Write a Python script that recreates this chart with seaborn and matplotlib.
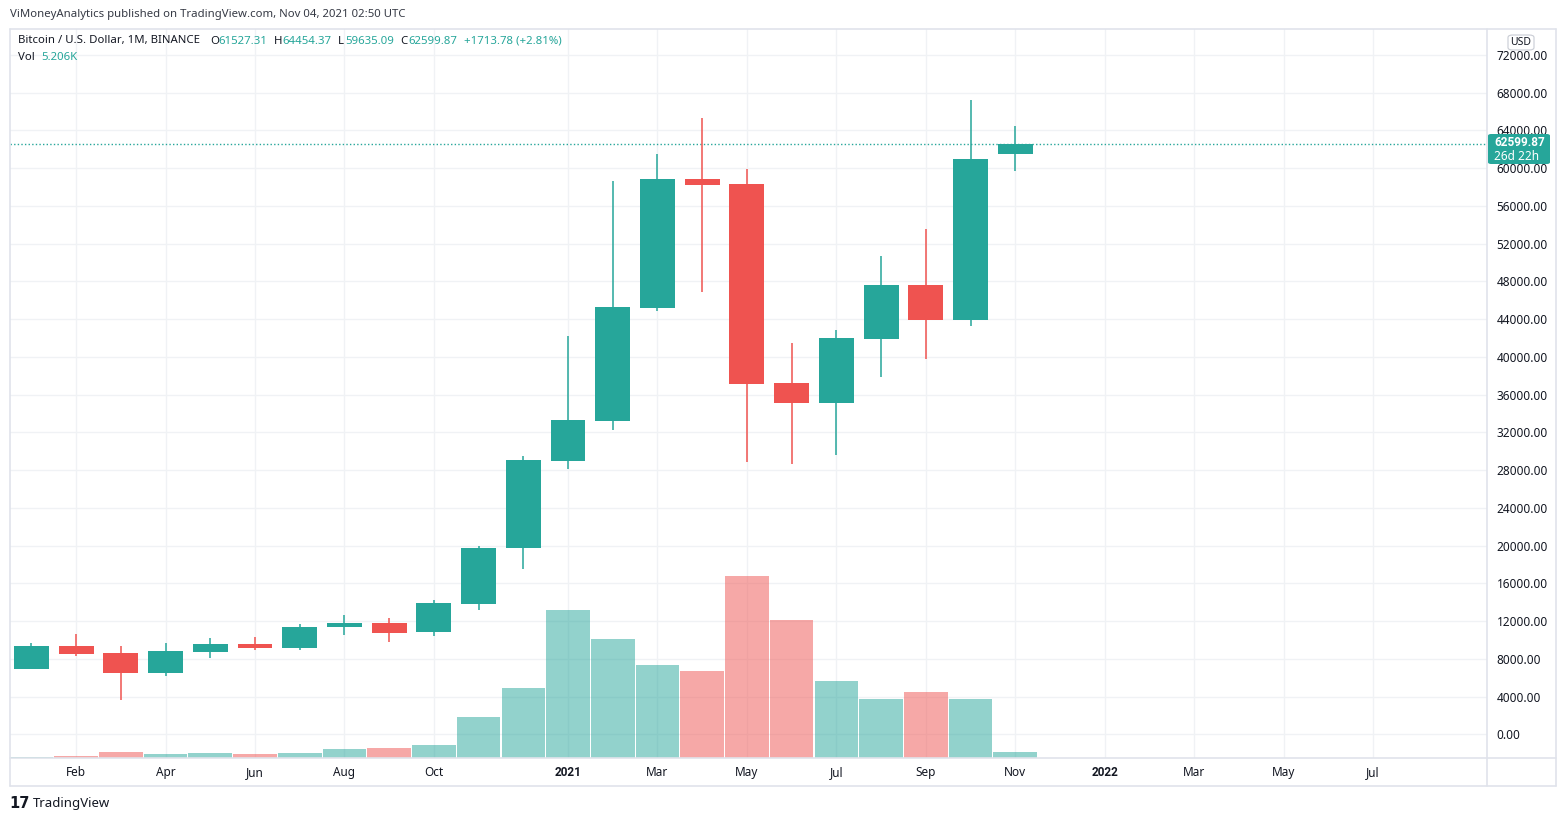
import matplotlib
matplotlib.use("Agg")
import matplotlib.pyplot as plt
from matplotlib.patches import FancyBboxPatch
from matplotlib.lines import Line2D
import numpy as np
import pandas as pd
import seaborn as sns

# monthly BTC candles, Jan 2020 .. Nov 2021
months = pd.date_range("2020-01-01", "2021-11-01", freq="MS")
opens = [6920, 9356, 8615, 6495, 8721, 9568, 9144, 11369, 11793, 10840, 13806, 19700,
         28991, 33230, 45200, 58840, 58310, 37224, 35105, 41886, 47608, 43899, 61527.31]
highs = [9674, 10628, 9356, 9674, 10204, 10310, 11687, 12641, 12323, 14230, 19952, 29489,
         42204, 58628, 61500, 65300, 59900, 41462, 42840, 50681, 53541, 67211, 64454.37]
lows = [6900, 8297, 3634, 6177, 8085, 8932, 8932, 10522, 9780, 10416, 13170, 17515,
        28111, 32244, 44853, 46866, 28853, 28641, 29595, 37859, 39767, 43264, 59635.09]
closes = [9356, 8509, 6495, 8827, 9568, 9144, 11369, 11793, 10733, 13912, 19740, 29065,
          33303, 45277, 58840, 58203, 37118, 35105, 41992, 47608, 43899, 60959, 62599.87]
volumes_k = [0.9, 1.7, 5.2, 3.5, 4.3, 3.5, 4.3, 7.8, 8.7, 11.3, 35.6, 60.8,
             129.3, 103.3, 80.7, 75.5, 158.8, 120.6, 66.8, 51.2, 57.3, 51.2, 5.206]

tick_pos = [1, 3, 5, 7, 9, 12, 14, 16, 18, 20, 22, 24, 26, 28, 30]
tick_labels = ["Feb", "Apr", "Jun", "Aug", "Oct", "2021", "Mar", "May", "Jul", "Sep",
               "Nov", "2022", "Mar", "May", "Jul"]
price_ticks = list(range(0, 72001, 4000))
last_price = 62599.87

UP, DOWN = "#26a69a", "#ef5350"
TXT, GRID, FRAME = "#131722", "#f0f2f5", "#e0e3eb"
BOLD = ["Roboto", "DejaVu Sans"]

sns.set_theme(style="white")
plt.rcParams["font.family"] = ["Noto Sans", "DejaVu Sans"]

W, H = 1566, 821
fig = plt.figure(figsize=(W / 100, H / 100), dpi=100)


def fx(x):
    return x / W


def fy(y):
    return 1 - y / H


# pane: x 10..1487, y 29..758 (pixels)
ax = fig.add_axes([fx(10), fy(758), (1487 - 10) / W, (758 - 29) / H])
axv = ax.twinx()

df = pd.DataFrame({"idx": np.arange(len(months)), "open": opens, "high": highs,
                   "low": lows, "close": closes, "volume": volumes_k})
df["dir"] = np.where(df["close"] >= df["open"], "up", "down")
col = df["dir"].map({"up": UP, "down": DOWN})

# candles
ax.vlines(df["idx"], df["low"], df["high"], colors=col, lw=1.1, zorder=3)
ax.bar(df["idx"], (df["close"] - df["open"]).abs(), bottom=df[["open", "close"]].min(axis=1),
       width=0.78, color=col, lw=0, zorder=4)
ax.axhline(last_price, color=UP, lw=1.0, ls=(0, (1, 1.6)), zorder=2)

# volume overlay
sns.barplot(data=df, x="idx", y="volume", hue="dir", palette={"up": UP, "down": DOWN},
            native_scale=True, dodge=False, width=0.975, alpha=0.5, saturation=1,
            errorbar=None, legend=False, linewidth=0, ax=axv)
axv.set_ylim(0, max(volumes_k) / 0.25)
axv.set_yticks([])
axv.set_ylabel("")
axv.set_xlabel("")

ax.set_xlim(-0.479, 32.55)
axv.set_xlim(-0.479, 32.55)
ax.set_ylim(-2511, 74734)

ax.set_yticks(price_ticks)
ax.set_yticklabels([f"{v:.2f}" for v in price_ticks])
ax.yaxis.tick_right()
ax.set_xticks(tick_pos)
ax.set_xticklabels(tick_labels)
for lab in ax.get_xticklabels():
    if lab.get_text().isdigit():
        lab.set_fontweight("bold")
        lab.set_family(BOLD)
ax.tick_params(axis="y", length=0, pad=7, labelsize=8.5, labelcolor=TXT)
ax.tick_params(axis="x", length=0, pad=6, labelsize=8.5, labelcolor=TXT)
ax.grid(True, color=GRID, lw=1)
ax.set_axisbelow(True)
for a in (ax, axv):
    for s in a.spines.values():
        s.set_visible(False)
ax.set_xlabel("")
ax.set_ylabel("")

# widget frame
for (x0, y0, x1, y1) in [(10, 29, 1556, 29), (10, 29, 10, 786), (1556, 29, 1556, 786),
                         (10, 786, 1556, 786), (10, 758, 1556, 758), (1487, 29, 1487, 786)]:
    fig.add_artist(Line2D([fx(x0), fx(x1)], [fy(y0), fy(y1)], color=FRAME, lw=1.2))

# header + legend
fig.text(fx(10), fy(14), "ViMoneyAnalytics published on TradingView.com, Nov 04, 2021 02:50 UTC",
         size=8.2, color="#363a45", va="center")
legend_parts = [(18, "Bitcoin / U.S. Dollar, 1M, BINANCE", TXT), (210, "O", TXT),
                (218, "61527.31", UP), (274, "H", TXT), (282, "64454.37", UP),
                (338, "L", TXT), (345, "59635.09", UP), (400, "C", TXT),
                (408, "62599.87", UP), (464, "+1713.78 (+2.81%)", UP)]
for x, s, c in legend_parts:
    fig.text(fx(x), fy(41), s, size=8.2, color=c, va="center")
fig.text(fx(18), fy(58), "Vol", size=8.2, color=TXT, va="center")
fig.text(fx(41), fy(58), "5.206K", size=8.2, color=UP, va="center")

# last price tag
fig.add_artist(FancyBboxPatch((fx(1488), fy(164)), fx(62), 30 / H,
                              boxstyle="round,pad=0,rounding_size=0.002",
                              fc=UP, ec="none", zorder=10))
fig.text(fx(1494), fy(142), f"{last_price:.2f}", size=8.5, color="white",
         weight="bold", family=BOLD, va="center", zorder=11)
fig.text(fx(1494), fy(156), "26d 22h", size=8.5, color="white", va="center", zorder=11)

# currency badge
fig.add_artist(FancyBboxPatch((fx(1508), fy(50)), fx(26), 15 / H,
                              boxstyle="round,pad=0,rounding_size=0.003",
                              fc="white", ec="#c9ccd4", lw=0.8, zorder=10))
fig.text(fx(1521), fy(42.5), "USD", size=7.5, color=TXT, ha="center", va="center", zorder=11)

# footer logo
fig.text(fx(9), fy(803), "17", size=10.5, color=TXT, weight="heavy", family=["DejaVu Sans"],
         va="center")
fig.text(fx(33), fy(803), "TradingView", size=9.5, color=TXT, va="center")

fig.savefig("out.png", dpi=100, facecolor="white")
